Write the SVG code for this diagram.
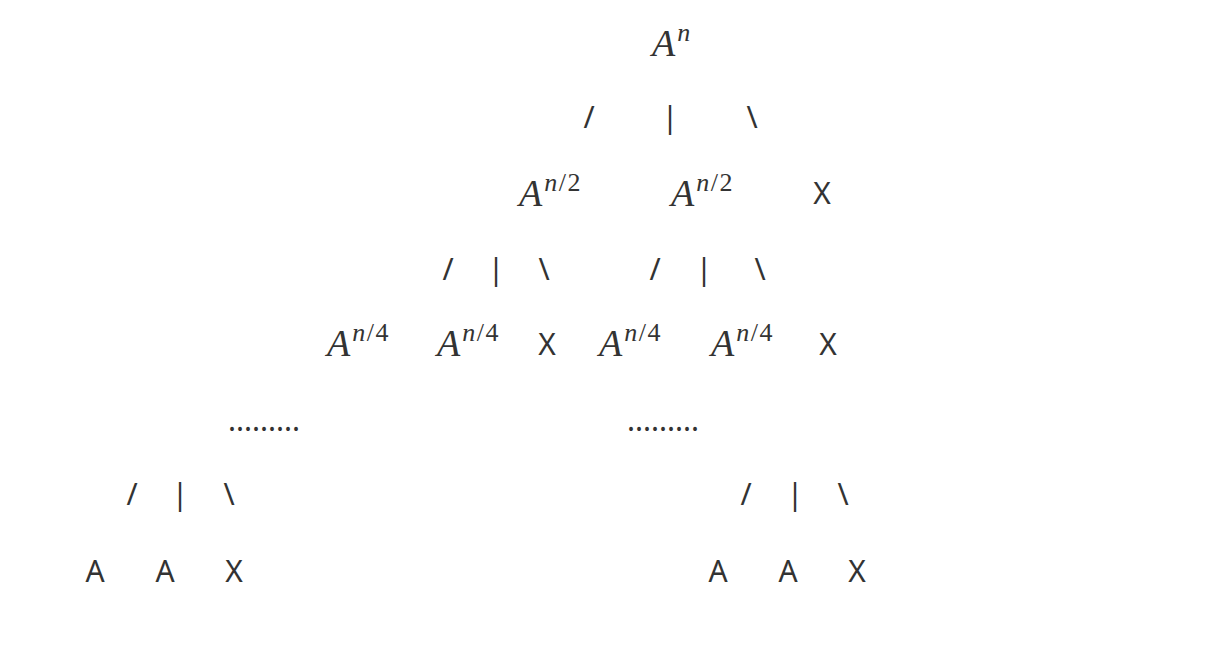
<svg xmlns="http://www.w3.org/2000/svg" width="1226" height="650" viewBox="0 0 1226 650">
<style>
.s{font-family:"Noto Sans","Open Sans","DejaVu Sans",sans-serif;font-size:30px;fill:#333;text-anchor:middle}
.m{font-family:"Liberation Serif","DejaVu Serif",serif;font-size:38px;fill:#333}
.i{font-style:italic}
.sup{font-size:26px;letter-spacing:1.5px}
</style>
<rect width="1226" height="650" fill="#fff"/>
<g id="nodes">
<g id="n-root"><text class="m" x="652" y="56"><tspan class="i">A</tspan><tspan class="sup i" dx="2" dy="-15">n</tspan></text></g>
<g id="n-l1a"><text class="m" x="519" y="206"><tspan class="i">A</tspan><tspan class="sup i" dx="2" dy="-15">n</tspan><tspan class="sup">/2</tspan></text></g>
<g id="n-l1b"><text class="m" x="671" y="206"><tspan class="i">A</tspan><tspan class="sup i" dx="2" dy="-15">n</tspan><tspan class="sup">/2</tspan></text></g>
<g id="n-l1x"><text class="s" x="822" y="204">X</text></g>
<g id="n-l2a"><text class="m" x="327" y="356"><tspan class="i">A</tspan><tspan class="sup i" dx="2" dy="-15">n</tspan><tspan class="sup">/4</tspan></text></g>
<g id="n-l2b"><text class="m" x="437" y="356"><tspan class="i">A</tspan><tspan class="sup i" dx="2" dy="-15">n</tspan><tspan class="sup">/4</tspan></text></g>
<g id="n-l2x1"><text class="s" x="547" y="355">X</text></g>
<g id="n-l2c"><text class="m" x="599" y="356"><tspan class="i">A</tspan><tspan class="sup i" dx="2" dy="-15">n</tspan><tspan class="sup">/4</tspan></text></g>
<g id="n-l2d"><text class="m" x="711" y="356"><tspan class="i">A</tspan><tspan class="sup i" dx="2" dy="-15">n</tspan><tspan class="sup">/4</tspan></text></g>
<g id="n-l2x2"><text class="s" x="828" y="355">X</text></g>
<g id="n-dots1"><text class="s" x="264" y="431" textLength="72" lengthAdjust="spacing">.........</text></g>
<g id="n-dots2"><text class="s" x="663" y="431" textLength="72" lengthAdjust="spacing">.........</text></g>
<g id="n-leafA1"><text class="s" x="95" y="582">A</text></g>
<g id="n-leafA2"><text class="s" x="165" y="582">A</text></g>
<g id="n-leafX1"><text class="s" x="234" y="582">X</text></g>
<g id="n-leafA3"><text class="s" x="718" y="582">A</text></g>
<g id="n-leafA4"><text class="s" x="788" y="582">A</text></g>
<g id="n-leafX2"><text class="s" x="857" y="582">X</text></g>
</g>
<g id="connectors">
<text class="s" x="589" y="128">/</text><text class="s" x="670" y="128">|</text><text class="s" x="752" y="128">\</text>
<text class="s" x="448" y="280">/</text><text class="s" x="496" y="280">|</text><text class="s" x="544" y="280">\</text>
<text class="s" x="655" y="280">/</text><text class="s" x="704" y="280">|</text><text class="s" x="760" y="280">\</text>
<text class="s" x="132" y="505">/</text><text class="s" x="180" y="505">|</text><text class="s" x="229" y="505">\</text>
<text class="s" x="746" y="505">/</text><text class="s" x="795" y="505">|</text><text class="s" x="843" y="505">\</text>
</g>
</svg>
